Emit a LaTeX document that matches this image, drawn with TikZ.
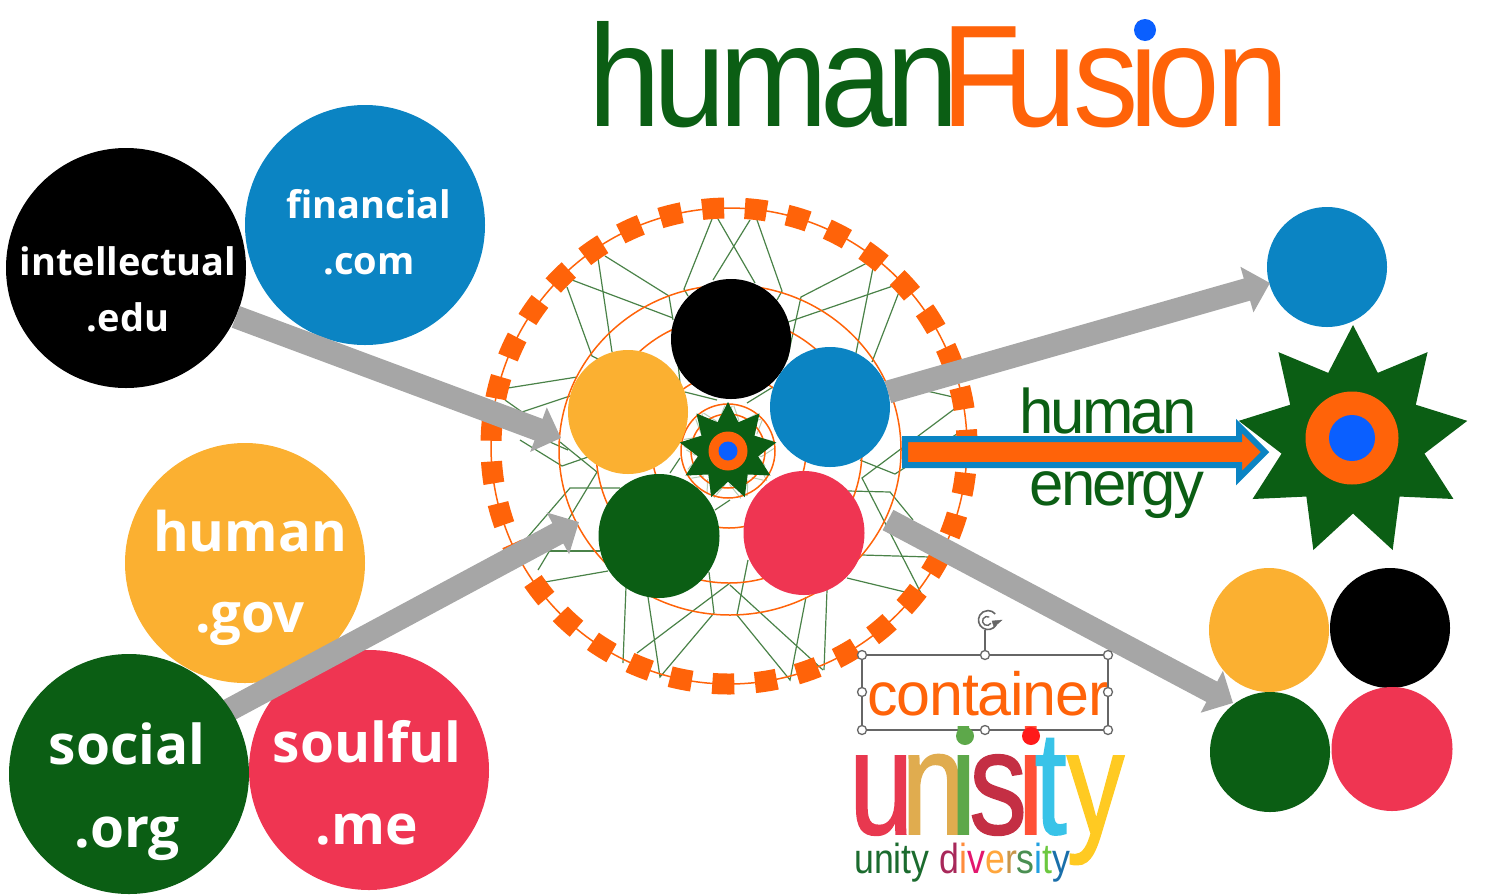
\documentclass[tikz,border=0pt]{standalone}
\usepackage{fontspec}
\usepackage{xcolor}
\usepackage{tikz}
\usetikzlibrary{arrows.meta, shapes.geometric, shapes.arrows}
\setmainfont{Liberation Sans}
\newfontfamily\discfont{Open Sans}[BoldFont={Open Sans Bold}]
\newfontfamily\titlefont{Liberation Sans}[FakeStretch=0.9]
\newfontfamily\wordfont{Liberation Sans}[FakeStretch=0.98,LetterSpace=-4.5]
\newfontfamily\contfont{Liberation Sans}[LetterSpace=-2]
\newfontfamily\unifont{Liberation Sans}[FakeStretch=0.78,FakeBold=1]
\newfontfamily\subfont{Liberation Sans}[FakeStretch=0.85]
\definecolor{hgreen}{HTML}{0B5E14}
\definecolor{horange}{HTML}{FF6309}
\definecolor{hblue}{HTML}{0B84C3}
\definecolor{hyellow}{HTML}{FBB031}
\definecolor{hred}{HTML}{EF3552}
\definecolor{hdot}{HTML}{0A5FFF}
\definecolor{hgray}{HTML}{A6A6A6}
\definecolor{webgreen}{HTML}{4A8248}
\definecolor{handle}{HTML}{666666}
\tikzset{
  bigdisc/.style={circle, minimum size=240pt, inner sep=0pt},
  smalldisc/.style={circle, minimum size=120pt, inner sep=0pt},
  hubdisc/.style={ellipse, minimum width=121pt, minimum height=124pt, inner sep=0pt},
  wlab/.style={text=white, align=center, inner sep=0pt},
  garr/.style={-{Triangle[length=24pt,width=46pt]}, line width=23pt, draw=hgray},
  ring/.style={draw=horange, line width=1.5pt},
  web/.style={draw=webgreen, line width=1.2pt},
  paleweb/.style={draw=webgreen!40, line width=1pt},
  grip/.style={circle, draw=handle, fill=white, line width=1.3pt, minimum size=9pt, inner sep=0pt},
  selbox/.style={draw=handle, line width=1.2pt},
  starbig/.style={star, star points=9, star point ratio=1.6, fill=hgreen, inner sep=0pt}
}
% one pass of the green web, about the centre of the big ring
\newcommand{\webpaths}[1]{
  \draw[#1] (712,219) -- (684,289) -- (688,296);
  \draw[#1] (750,220) -- (713,280);
  \draw[#1] (718,219) -- (755,283);
  \draw[#1] (757,220) -- (782,291) -- (777,300);
  \draw[#1] (605,256) -- (669,296) -- (673,320);
  \draw[#1] (598,258) -- (612,352);
  \draw[#1] (572,280) -- (673,318);
  \draw[#1] (567,287) -- (592,356) -- (598,359);
  \draw[#1] (508,388) -- (577,377);
  \draw[#1] (505,400) -- (522,412) -- (570,396);
  \draw[#1] (507,423) -- (568,450);
  \draw[#1] (685,392) -- (717,400);
  \draw[#1] (678,363) -- (680,383);
  \draw[#1] (867,263) -- (801,297) -- (787,360);
  \draw[#1] (893,286) -- (788,322);
  \draw[#1] (873,268) -- (856,353);
  \draw[#1] (899,292) -- (872,362);
  \draw[#1] (953,397) -- (905,386);
  \draw[#1] (957,407) -- (862,478) -- (922,595);
  \draw[#1] (960,432) -- (895,474) -- (860,460);
  \draw[#1] (773,387) -- (747,403);
  \draw[#1] (848,491) -- (890,492) -- (913,520);
  \draw[#1] (862,555) -- (930,557);
  \draw[#1] (847,578) -- (905,592);
  \draw[#1] (827,590) -- (824,670);
  \draw[#1] (806,597) -- (790,680) -- (737,615) -- (748,560);
  \draw[#1] (730,585) -- (823,670);
  \draw[#1] (730,583) -- (637,653);
  \draw[#1] (709,572) -- (714,613) -- (660,677) -- (648,597);
  \draw[#1] (623,663) -- (626,587);
  \draw[#1] (545,582) -- (608,571);
  \draw[#1] (538,570) -- (597,472) -- (560,442);
  \draw[#1] (588,457) -- (562,466) -- (520,440);
  \draw[#1] (527,538) -- (570,488) -- (620,488);
  \draw[#1] (550,551) -- (600,551);
  \draw[#1] (680,458) -- (670,473);
  \draw[#1] (730,500) -- (715,510);
}
\begin{document}
\begin{tikzpicture}[x=1pt, y=-1pt, font=\discfont\bfseries]
\useasboundingbox (0,0) rectangle (1486,895);
% ---------- title ----------
\node[text=hgreen, inner sep=0pt, anchor=base west, font=\titlefont\fontsize{145}{145}\selectfont] (title) at (588.4,126)
  {h\kern-7.25pt u\kern-7.25pt m\kern-7.25pt a\kern-7.25pt n\kern-16.8pt\textcolor{horange}{F\kern-16.9pt u\kern-4pt s\kern-8.9pt i\kern-10.9pt o\kern-3.7pt n}};
\node[circle, fill=hdot, minimum size=22pt, inner sep=0pt] (titledot) at (1145,30) {};
% ---------- web and rings ----------
\webpaths{web}
\begin{scope}[shift={(728,451)}, scale=0.2, shift={(-728,-446)}]
  \webpaths{paleweb}
\end{scope}
\draw[ring] (729,446) circle (238);
\draw[horange, line width=21pt, dash pattern=on 22pt off 20.72pt, dash phase=15.9pt] (729,446) circle (238);
\draw[ring] (730,450) ellipse (171 and 165);
\draw[ring] (729,450) circle (133);
\draw[ring] (729,451) circle (77);
\draw[ring] (728,451) circle (47);
\draw[ring] (728,451) circle (37);
% ---------- hub discs ----------
\node[smalldisc, fill=black] (hubblack) at (731,339) {};
\node[smalldisc, fill=hblue] (hubblue) at (830,407) {};
\node[hubdisc, fill=hyellow, minimum width=120pt] (hubyellow) at (628,412) {};
\node[hubdisc, fill=hgreen] (hubgreen) at (659,536) {};
\node[hubdisc, fill=hred] (hubred) at (804,533) {};
\node[starbig, minimum size=98pt] (hubstar) at (728,451) {};
\node[circle, fill=horange, minimum size=39pt, inner sep=0pt] (hubring) at (728,451) {};
\node[circle, fill=hdot, minimum size=19pt, inner sep=0pt] (hubcore) at (728,451) {};
% ---------- large discs on the left ----------
\node[bigdisc, fill=hyellow] (human) at (245,563) {};
\node[bigdisc, fill=hblue] (financial) at (365,225) {};
\node[bigdisc, fill=hred] (soulful) at (369,770) {};
\node[bigdisc, fill=black] (intellectual) at (126,268) {};
\coordinate (sotail) at (229,710);
\coordinate (intip) at (561,438);
\coordinate (sotip) at (579,522);
\coordinate (bltail) at (888,392);
\coordinate (bltip) at (1270,283);
\coordinate (retail) at (888,520);
\coordinate (retip) at (1233,703);
\draw[garr] (intellectual.-24) -- (intip);
\draw[garr] (sotail) -- (sotip);
\node[bigdisc, fill=hgreen] (social) at (129,774) {};
\node[wlab, font=\discfont\bfseries\fontsize{38}{56}\selectfont] (finlab) at (369,232) {financial\\.com};
\node[wlab, font=\discfont\bfseries\fontsize{38}{56}\selectfont] (intlab) at (128,289) {intellectual\\.edu};
\node[wlab, font=\discfont\bfseries\fontsize{54.5}{81}\selectfont] (humlab) at (250,578) {human\\.gov};
\node[wlab, font=\discfont\bfseries\fontsize{55}{83}\selectfont] (soclab) at (127,792) {social\\.org};
\node[wlab, font=\discfont\bfseries\fontsize{55}{82}\selectfont] (soulab) at (367,783) {soulful\\.me};
% ---------- right side ----------
\node[smalldisc, fill=hblue] (outblue) at (1327,267) {};
\node[starbig, minimum size=232pt] (outstar) at (1353,441) {};
\node[circle, fill=horange, minimum size=93pt, inner sep=0pt] (outring) at (1352,438) {};
\node[circle, fill=hdot, minimum size=46pt, inner sep=0pt] (outcore) at (1352,438) {};
\node[hubdisc, fill=hyellow, minimum width=120pt] (outyellow) at (1269,630) {};
\node[smalldisc, fill=black] (outblack) at (1390,628) {};
\node[smalldisc, fill=hgreen] (outgreen) at (1270,752) {};
\node[hubdisc, fill=hred] (outred) at (1392,749) {};
\draw[garr] (bltail) -- (bltip);
\draw[garr] (retail) -- (retip);
% ---------- human energy ----------
\node[text=hgreen, inner sep=0pt, font=\wordfont\fontsize{63}{63}\selectfont, anchor=base] (humanword) at (1108,433) {human};
\node[text=hgreen, inner sep=0pt, font=\wordfont\fontsize{63}{63}\selectfont, anchor=base] (energyword) at (1117,505) {energy};
\node[single arrow, draw=hblue, fill=horange, line width=6pt, inner xsep=0pt, inner ysep=10pt,
  minimum height=360pt, minimum width=50pt, single arrow head extend=13pt,
  single arrow tip angle=90] (energyarrow) at (1078.5,452) {};
% ---------- container ----------
\node[text=horange, inner sep=0pt, font=\contfont\fontsize{61}{61}\selectfont, anchor=base] (container) at (988,715) {container};
\draw[selbox] (862,655) rectangle (1108,730);
\node[grip] (g1) at (862,655) {};
\node[grip] (g2) at (985,655) {};
\node[grip] (g3) at (1108,655) {};
\node[grip] (g4) at (862,692) {};
\node[grip] (g5) at (1108,692) {};
\node[grip] (g6) at (862,730) {};
\node[grip] (g7) at (985,730) {};
\node[grip] (g8) at (1108,730) {};
\coordinate (rotfoot) at (985,630);
\draw[selbox] (g2) -- (rotfoot);
\draw[handle, line width=1.6pt] (996.2,624.8) arc (30:320:9.5);
\draw[handle, line width=1.4pt] (990.9,623.2) arc (30:300:4.5);
\draw[handle, fill=handle] (992,621) -- (1002,620) -- (994,627) -- cycle;
% ---------- unisity ----------
\node[inner sep=0pt, font=\unifont\fontsize{148}{148}\selectfont, anchor=base west] (unisity) at (849,834)
  {\textcolor[HTML]{E8384F}{u}\kern-12pt\textcolor[HTML]{E0AC4F}{n}\kern-15pt\textcolor[HTML]{5DA84A}{i}\kern-7pt\textcolor[HTML]{C42F44}{s}\kern-9pt\textcolor[HTML]{FF5036}{i}\kern-9pt\textcolor[HTML]{38C3E8}{t}\textcolor[HTML]{FFCA22}{y}};
\node[circle, fill={rgb,255:red,93;green,168;blue,74}, minimum size=18pt, inner sep=0pt] (dotgreen) at (965,736) {};
\node[circle, fill={rgb,255:red,255;green,26;blue,26}, minimum size=18pt, inner sep=0pt] (dotred) at (1031,736) {};
\node[inner sep=0pt, font=\subfont\fontsize{42}{42}\selectfont, anchor=base west] (tagline) at (854,873)
  {\textcolor[HTML]{1B6B2E}{unity} \textcolor[HTML]{A8285A}{d}\textcolor[HTML]{FF8C3C}{i}\textcolor[HTML]{E3176E}{v}\textcolor[HTML]{FFA63C}{e}\textcolor[HTML]{C8964A}{r}\textcolor[HTML]{4A8F52}{s}\textcolor[HTML]{22A0E0}{i}\textcolor[HTML]{6CC83F}{t}\textcolor[HTML]{1A6FAA}{y}};
\end{tikzpicture}
\end{document}
